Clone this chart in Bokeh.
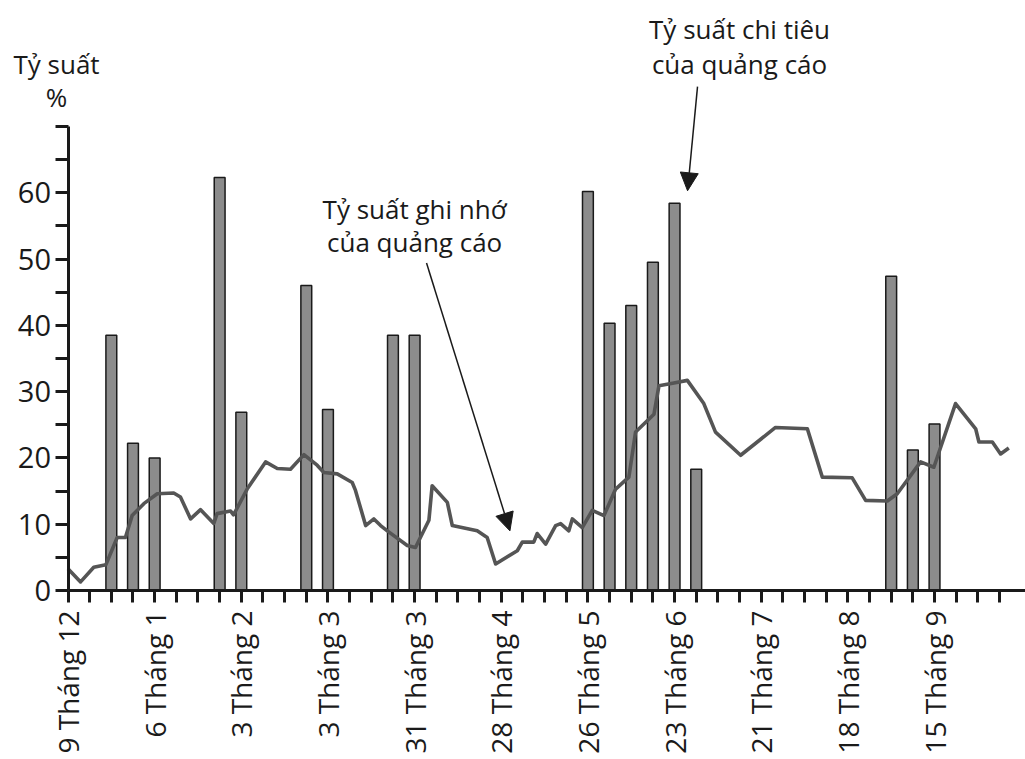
from bokeh.plotting import figure
from bokeh.models import Range1d, FixedTicker, Label, Arrow, NormalHead, ColumnDataSource
from bokeh.embed import file_html
from bokeh.resources import INLINE
import math

# ---- data ----
tick_labels = {0: "9 Tháng 12", 4: "6 Tháng 1", 8: "3 Tháng 2", 12: "3 Tháng 3",
               16: "31 Tháng 3", 20: "28 Tháng 4", 24: "26 Tháng 5", 28: "23 Tháng 6",
               32: "21 Tháng 7", 36: "18 Tháng 8", 40: "15 Tháng 9"}
n_weeks = 44

bar_week = [2, 3, 4, 7, 8, 11, 12, 15, 16, 24, 25, 26, 27, 28, 29, 38, 39, 40]
bar_value = [38.5, 22.2, 20.0, 62.3, 26.9, 46.0, 27.3, 38.5, 38.5, 60.2, 40.3, 43.0,
             49.5, 58.4, 18.3, 47.4, 21.2, 25.1]

line_week = [0.0, 0.58, 1.19, 1.75, 2.27, 2.65, 2.96, 3.50, 4.12, 4.88, 5.19, 5.66,
             6.12, 6.73, 6.88, 7.50, 7.64, 8.27, 9.12, 9.66, 10.27, 10.89, 11.50,
             11.81, 12.43, 13.12, 13.27, 13.74, 14.12, 14.43, 14.74, 15.66, 16.04,
             16.66, 16.81, 17.51, 17.74, 18.89, 19.35, 19.74, 20.74, 20.97, 21.50,
             21.66, 22.05, 22.51, 22.74, 23.12, 23.28, 23.74, 24.20, 24.74, 25.28,
             25.89, 26.20, 27.05, 27.28, 27.97, 28.59, 29.35, 29.89, 31.05, 32.66,
             34.13, 34.82, 36.20, 36.82, 37.82, 38.28, 39.36, 39.97, 40.97, 41.90,
             42.05, 42.67, 43.05, 43.43]
line_value = [3.3, 1.3, 3.5, 3.9, 8.0, 8.0, 11.3, 13.1, 14.6, 14.7, 14.1, 10.8,
              12.2, 10.1, 11.6, 12.0, 11.4, 15.3, 19.4, 18.4, 18.3, 20.5, 18.9,
              17.8, 17.6, 16.3, 15.1, 9.8, 10.8, 9.8, 9.0, 6.8, 6.5,
              10.6, 15.8, 13.3, 9.8, 9.0, 8.0, 4.0, 6.0, 7.3, 7.3,
              8.6, 7.0, 9.8, 10.1, 9.0, 10.8, 9.5, 12.1, 11.3, 15.3,
              17.1, 23.9, 26.6, 30.9, 31.3, 31.7, 28.2, 23.9, 20.4, 24.6,
              24.4, 17.1, 17.0, 13.6, 13.5, 14.6, 19.4, 18.6, 28.2, 24.4,
              22.4, 22.4, 20.6, 21.5]

y_major = [0, 10, 20, 30, 40, 50, 60]
y_minor = [5, 15, 25, 35, 45, 55, 65, 70]

FONT = "Open Sans"
INK = "#1a1a1a"

p = figure(width=1025, height=759, output_backend="svg", toolbar_location=None,
           x_range=Range1d(-3.116, 44.2), y_range=Range1d(-25.49, 89.0),
           min_border_left=0, min_border_right=0, min_border_top=0,
           min_border_bottom=0)
p.outline_line_color = None
p.grid.visible = False
p.background_fill_color = "white"

src_b = ColumnDataSource(dict(x=bar_week, top=bar_value))
p.vbar(x="x", top="top", bottom=0, width=0.5, source=src_b,
       fill_color="#8c8c8c", line_color=INK, line_width=1.5)
src_l = ColumnDataSource(dict(x=line_week, y=line_value))
p.line(x="x", y="y", source=src_l, line_color="#555555", line_width=3.6,
       line_join="round")

# axes
xa = p.xaxis[0]
xa.fixed_location = 0
xa.ticker = FixedTicker(ticks=sorted(tick_labels.keys()),
                        minor_ticks=[i for i in range(n_weeks) if i not in tick_labels])
xa.bounds = (0, 44.2)
xa.major_label_overrides = {k: v for k, v in tick_labels.items()}
xa.major_label_orientation = math.pi / 2
xa.major_label_text_font = FONT
xa.major_label_text_font_size = "28px"
xa.major_label_text_color = INK
xa.major_label_standoff = 8
xa.axis_line_width = 3
xa.axis_line_color = INK
xa.major_tick_line_width = 3
xa.minor_tick_line_width = 3
xa.major_tick_line_color = INK
xa.minor_tick_line_color = INK
xa.major_tick_out = 12
xa.major_tick_in = 0
xa.minor_tick_out = 12
xa.minor_tick_in = 0

ya = p.yaxis[0]
ya.fixed_location = 0
ya.ticker = FixedTicker(ticks=y_major, minor_ticks=y_minor)
ya.bounds = (0, 70)
ya.major_label_text_font = FONT
ya.major_label_text_font_size = "29px"
ya.major_label_text_color = INK
ya.major_label_standoff = 4
ya.axis_line_width = 3
ya.axis_line_color = INK
ya.major_tick_line_width = 3
ya.minor_tick_line_width = 3
ya.major_tick_line_color = INK
ya.minor_tick_line_color = INK
ya.major_tick_out = 13
ya.major_tick_in = 0
ya.minor_tick_out = 13
ya.minor_tick_in = 0

def lab(x, y, text, size="26px"):
    p.add_layout(Label(x=x, y=y, text=text, text_align="center", text_baseline="middle",
                       text_font=FONT, text_font_size=size, text_color=INK))

lab(-0.53, 79.4, "Tỷ suất")
lab(-0.53, 74.4, "%")
lab(16.0, 57.5, "Tỷ suất ghi nhớ")
lab(16.0, 52.5, "của quảng cáo")
lab(31.0, 84.7, "Tỷ suất chi tiêu")
lab(31.0, 79.4, "của quảng cáo")

p.add_layout(Arrow(x_start=16.55, y_start=49.4, x_end=20.4, y_end=9.0,
                   line_color=INK, line_width=1.5,
                   end=NormalHead(size=18, fill_color=INK, line_color=INK)))
p.add_layout(Arrow(x_start=29.06, y_start=76.0, x_end=28.6, y_end=60.3,
                   line_color=INK, line_width=1.5,
                   end=NormalHead(size=18, fill_color=INK, line_color=INK)))

open("out.html", "w").write(file_html(p, INLINE))
